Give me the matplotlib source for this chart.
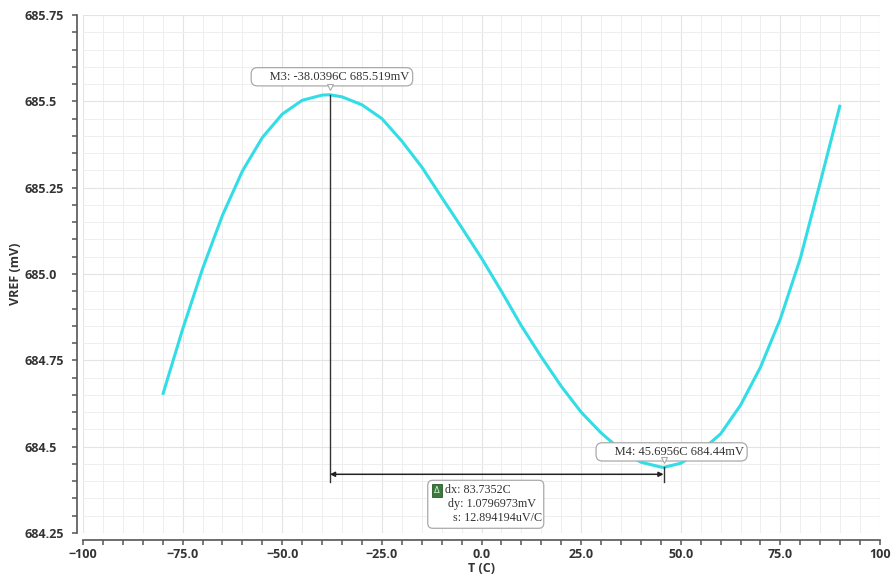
import matplotlib
matplotlib.use('Agg')
import matplotlib.pyplot as plt
from matplotlib.ticker import MultipleLocator, FuncFormatter
from matplotlib.transforms import offset_copy, IdentityTransform
from matplotlib.patches import FancyBboxPatch

# VREF over temperature
temp_c = [-80, -75, -70, -65, -60, -55, -50, -45, -40, -38.0396,
          -35, -30, -25, -20, -15, -10, -5, 0, 5, 10,
          15, 20, 25, 30, 35, 40, 45, 45.6956, 50, 55,
          60, 65, 70, 75, 80, 85, 90]
vref_mv = [684.65, 684.84, 685.015, 685.17, 685.298, 685.395, 685.463, 685.503, 685.518, 685.519,
           685.513, 685.49, 685.45, 685.385, 685.31, 685.222, 685.135, 685.046, 684.95, 684.85,
           684.76, 684.675, 684.60, 684.54, 684.49, 684.455, 684.441, 684.44, 684.452, 684.487,
           684.537, 684.62, 684.73, 684.87, 685.045, 685.265, 685.49]

# markers / delta readout
m3 = (-38.0396, 685.519)
m4 = (45.6956, 684.44)
m3_label = 'M3: -38.0396C 685.519mV'
m4_label = 'M4: 45.6956C 684.44mV'
delta_lines = ['dx: 83.7352C', 'dy: 1.0796973mV', 's: 12.894194uV/C']
delta_level = 684.42

TICK_FONT = ['Open Sans', 'DejaVu Sans']
NOTE_FONT = ['Liberation Serif', 'DejaVu Serif']

fig = plt.figure(figsize=(8.93, 5.81), dpi=100)
ax = fig.add_axes([83 / 893, 1 - 533 / 581, 797 / 893, 518 / 581])

ax.plot(temp_c, vref_mv, color='#33dde6', lw=2.2, solid_joinstyle='round',
        solid_capstyle='butt', zorder=3)

# region AXES
ax.set_xlim(-100, 100)
ax.set_ylim(684.25, 685.75)
ax.xaxis.set_major_locator(MultipleLocator(25))
ax.xaxis.set_minor_locator(MultipleLocator(5))
ax.yaxis.set_major_locator(MultipleLocator(0.25))
ax.yaxis.set_minor_locator(MultipleLocator(0.05))


def fmt_x(v, pos):
    if abs(v) >= 100:
        s = f'{v:.0f}'
    else:
        s = f'{v:.1f}'
    return s.replace('-', '\u2212')


def fmt_y(v, pos):
    s = f'{v:.2f}'.rstrip('0')
    if s.endswith('.'):
        s += '0'
    return s


ax.xaxis.set_major_formatter(FuncFormatter(fmt_x))
ax.yaxis.set_major_formatter(FuncFormatter(fmt_y))

for side in ['top', 'right']:
    ax.spines[side].set_visible(False)
ax.spines['left'].set_position(('outward', 4.5))
ax.spines['bottom'].set_position(('outward', 5))
for side in ['left', 'bottom']:
    ax.spines[side].set_color('#555555')
    ax.spines[side].set_linewidth(1.2)

ax.tick_params(which='both', direction='out', length=3.5, width=1.1, color='#555555')
ax.tick_params(axis='x', which='major', pad=2, labelsize=9, labelcolor='#333333')
ax.tick_params(axis='y', which='major', pad=34, labelsize=9, labelcolor='#333333')
for lbl in ax.get_xticklabels() + ax.get_yticklabels():
    lbl.set_family(TICK_FONT)
    lbl.set_fontweight('bold')
plt.setp(ax.get_yticklabels(), ha='left')

ax.grid(True, which='major', color='#e4e4e4', lw=0.8)
ax.grid(True, which='minor', color='#eeeeee', lw=0.7)
ax.set_axisbelow(True)

ax.set_xlabel('T (C)', family=TICK_FONT, fontweight='bold', fontsize=9, color='#333333')
ax.set_ylabel('VREF (mV)', family=TICK_FONT, fontweight='bold', fontsize=9, color='#333333')
ax.xaxis.set_label_coords(0.5, -0.056)
ax.yaxis.set_label_coords(-0.077, 0.5)
# endregion

# region MARKERS
line_bottom = delta_level - 0.022
ax.plot([m3[0], m3[0]], [m3[1], line_bottom], color='#333333', lw=1.0, zorder=4)
ax.plot([m4[0], m4[0]], [m4[1], line_bottom], color='#333333', lw=1.0, zorder=4)
ax.annotate('', xy=(m4[0], delta_level), xytext=(m3[0], delta_level),
            arrowprops=dict(arrowstyle='<|-|>', color='#222222', lw=1.1,
                            mutation_scale=7, shrinkA=0, shrinkB=0), zorder=4)

box = dict(boxstyle='round,pad=0.25,rounding_size=0.5', fc='white', ec='#aaaaaa', lw=0.9)
ax.annotate('     ' + m3_label, xy=m3, xytext=(2, 18), textcoords='offset pixels',
            ha='center', va='center', family=NOTE_FONT, fontsize=9, color='#333333',
            bbox=box, zorder=6)
ax.annotate('     ' + m4_label, xy=m4, xytext=(8, 15.5), textcoords='offset pixels',
            ha='center', va='center', family=NOTE_FONT, fontsize=9, color='#333333',
            bbox=box, zorder=6)
# little pointers under the marker labels
for pt, dy in [(m3, 8), (m4, 7.5)]:
    tr = offset_copy(ax.transData, fig=fig, x=0, y=dy, units='dots')
    ax.plot(pt[0], pt[1], marker='v', ms=5, mfc='white', mec='#aaaaaa', mew=0.8,
            transform=tr, zorder=7)

# delta readout box hanging under the middle of the dx line
mid_t = (m3[0] + m4[0]) / 2
ax_px, ay_px = ax.transData.transform((mid_t, delta_level))
dbox = FancyBboxPatch((ax_px - 69, ay_px - 54), 116, 48,
                      boxstyle='round,pad=0,rounding_size=5', fc='white', ec='#aaaaaa',
                      lw=0.9, transform=IdentityTransform(), zorder=6)
ax.add_artist(dbox)
for txt, dx_px, dy_px in [(delta_lines[0], -52, -16), (delta_lines[1], -49, -30),
                          (delta_lines[2], -44, -44)]:
    ax.annotate(txt, xy=(mid_t, delta_level), xytext=(dx_px, dy_px), textcoords='offset pixels',
                ha='left', va='center', family=NOTE_FONT, fontsize=8.7, color='#333333',
                zorder=7)
ax.annotate('\u0394', xy=(mid_t, delta_level), xytext=(-60, -16), textcoords='offset pixels',
            ha='center', va='center', family=['DejaVu Sans'], fontsize=6, color='#d8f0d8',
            bbox=dict(boxstyle='square,pad=0.25', fc='#3a7a3a', ec='#2a5a2a', lw=0.6),
            zorder=7)
# endregion

fig.savefig('out.png', dpi=100)
